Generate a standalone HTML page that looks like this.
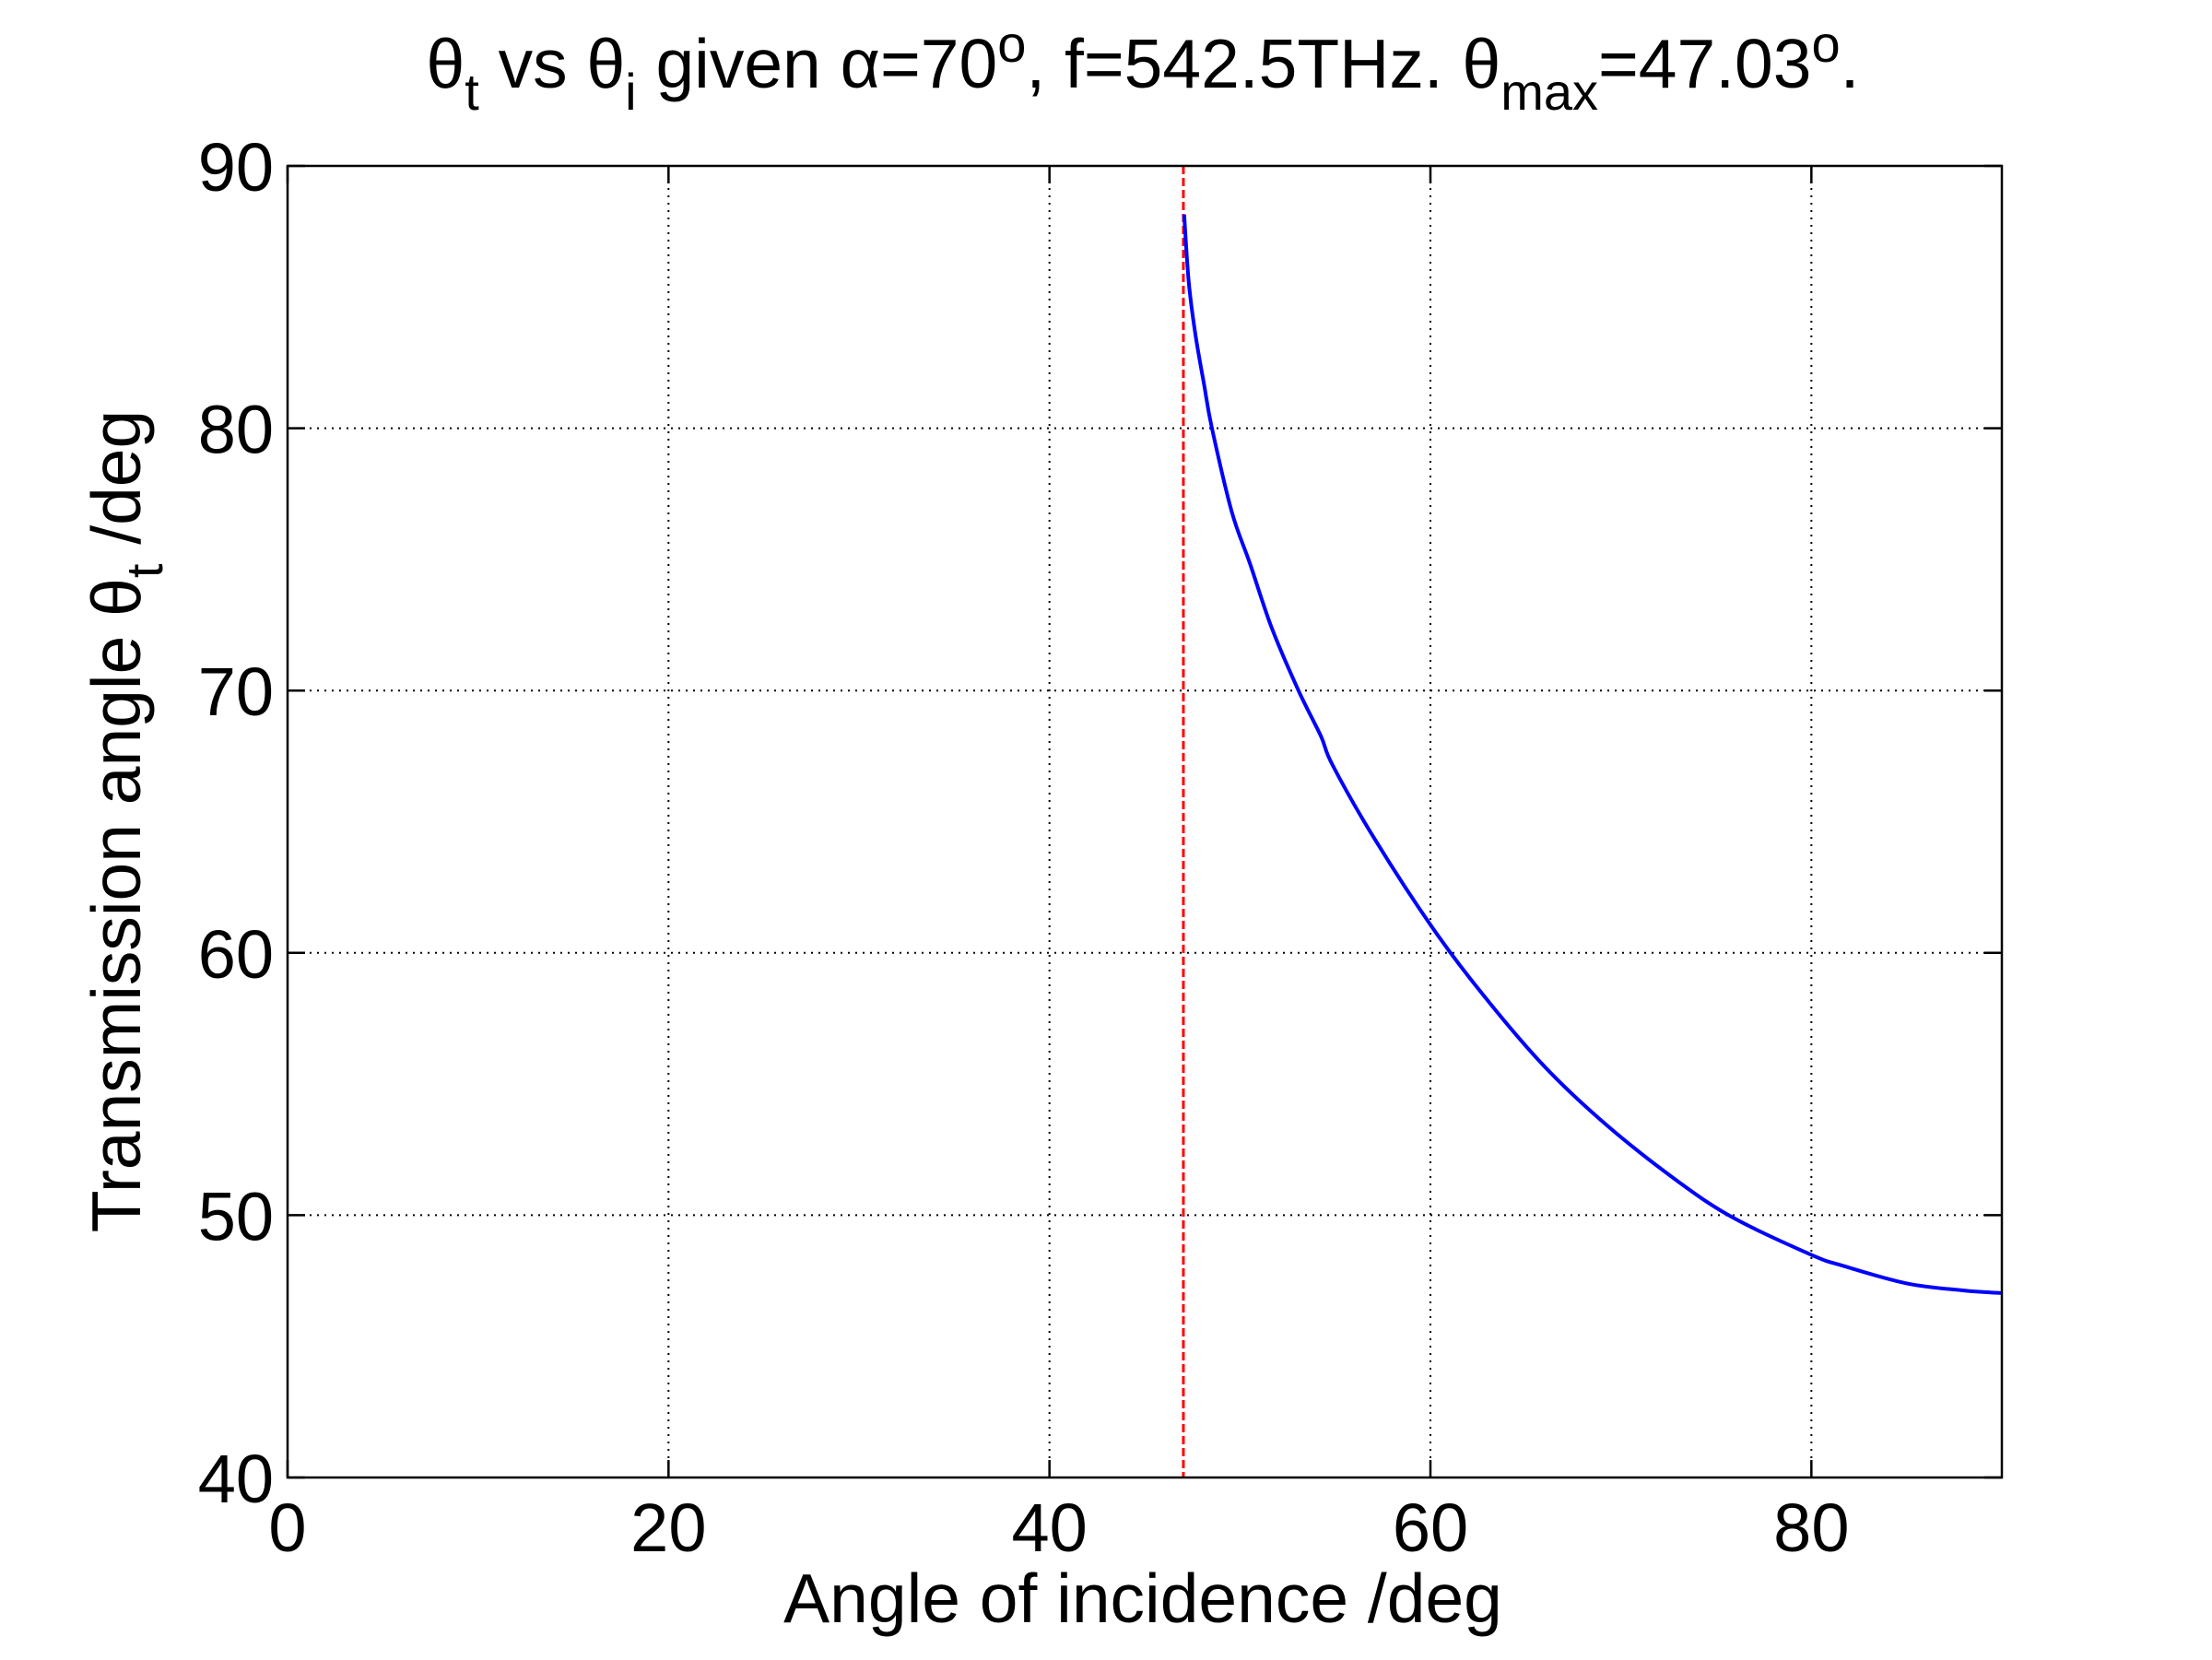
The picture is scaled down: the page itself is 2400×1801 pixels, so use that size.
<!DOCTYPE html>
<html><head><meta charset="utf-8"><style>
html,body{margin:0;padding:0;background:#fff;}
svg{display:block;font-family:"Liberation Sans",Arial,sans-serif;}
</style></head><body>
<svg id="chart" width="2400" height="1801" viewBox="0 0 2400 1801" xmlns="http://www.w3.org/2000/svg">
<rect x="0" y="0" width="2400" height="1801" fill="#fff"/>
<g id="grid"></g>
<g id="series"></g>
<rect x="312" y="180" width="1860" height="1423" fill="none" stroke="#000" stroke-width="2.5"/>
<g id="ticks"></g>
<text x="1240" y="95" font-size="75" text-anchor="middle">θ<tspan font-size="56" dy="24">t</tspan><tspan dy="-24"> vs θ</tspan><tspan font-size="56" dy="24">i</tspan><tspan dy="-24"> given α=70</tspan><tspan font-size="56" dy="-28">o</tspan><tspan dy="28">, f=542.5THz. θ</tspan><tspan font-size="56" dy="24">max</tspan><tspan dy="-24">=47.03</tspan><tspan font-size="56" dy="-28">o</tspan><tspan dy="28">.</tspan></text>
<text x="1240" y="1760" font-size="75" text-anchor="middle">Angle of incidence /deg</text>
<text transform="translate(152,891) rotate(-90)" font-size="75" text-anchor="middle">Transmission angle θ<tspan font-size="56" dy="24">t</tspan><tspan dy="-24"> /deg</tspan></text>
</svg>
<script>
const xTicks = [0, 20, 40, 60, 80];
const yTicks = [40, 50, 60, 70, 80, 90];
const thetaMax = 47.03;
const incidence = [47.07, 47.31, 47.64, 48.12, 48.52, 49.57, 50.54, 51.67, 53.04, 54.25, 54.86, 57.08, 60.04, 62.63, 65.96, 69.29, 72.99, 75.95, 80, 81.66, 85, 88, 90];
const transmission = [88.15, 85.6, 83.67, 81.65, 80.04, 76.82, 74.81, 72.39, 70.05, 68.26, 67.16, 64.33, 61.03, 58.52, 55.69, 53.41, 51.29, 49.88, 48.49, 48.07, 47.4, 47.13, 47.03];

const NS = 'http://www.w3.org/2000/svg';
const L = 312, R = 2172, T = 180, B = 1603;
const xMin = 0, xMax = 90, yMin = 40, yMax = 90;
function sx(v){ return L + (v - xMin) / (xMax - xMin) * (R - L); }
function sy(v){ return B - (v - yMin) / (yMax - yMin) * (B - T); }
function mk(tag, attrs, parent){
  const e = document.createElementNS(NS, tag);
  for (const k in attrs) e.setAttribute(k, attrs[k]);
  parent.appendChild(e);
  return e;
}
const grid = document.getElementById('grid');
const ticks = document.getElementById('ticks');
const series = document.getElementById('series');

xTicks.forEach(v => {
  const x = sx(v);
  if (v > xMin && v < xMax) {
    const g = mk('line', {x1:x, y1:T, x2:x, y2:B, stroke:'#000', 'stroke-width':2, 'stroke-dasharray':'2 6'}, grid);
    
    
  }
  const t1 = mk('line', {x1:x, y1:B, x2:x, y2:B-19, stroke:'#000', 'stroke-width':2.5}, ticks);
  
  
  const t2 = mk('line', {x1:x, y1:T, x2:x, y2:T+19, stroke:'#000', 'stroke-width':2.5}, ticks);
  
  
  const lb = mk('text', {x:x, y:1683, 'font-size':74, 'text-anchor':'middle'}, ticks);
  lb.textContent = v;
  
  
});
yTicks.forEach(v => {
  const y = sy(v);
  if (v > yMin && v < yMax) {
    const g = mk('line', {x1:L, y1:y, x2:R, y2:y, stroke:'#000', 'stroke-width':2, 'stroke-dasharray':'2 6'}, grid);
    
    
  }
  const t1 = mk('line', {x1:L, y1:y, x2:L+19, y2:y, stroke:'#000', 'stroke-width':2.5}, ticks);
  
  
  const t2 = mk('line', {x1:R, y1:y, x2:R-19, y2:y, stroke:'#000', 'stroke-width':2.5}, ticks);
  
  
  const lb = mk('text', {x:297, y:y+27, 'font-size':74, 'text-anchor':'end'}, ticks);
  lb.textContent = v;
  
  
});

const vx = sx(thetaMax);
const vl = mk('line', {x1:vx, y1:T, x2:vx, y2:B, stroke:'#ff0000', 'stroke-width':3, 'stroke-dasharray':'9 4'}, series);



// smooth Catmull-Rom path through data points
const P = incidence.map((v, i) => [sx(v), sy(transmission[i])]);
let d = 'M' + P[0][0].toFixed(1) + ',' + P[0][1].toFixed(1);
for (let i = 0; i < P.length - 1; i++) {
  const p0 = P[Math.max(i-1,0)], p1 = P[i], p2 = P[i+1], p3 = P[Math.min(i+2,P.length-1)];
  const c1 = [p1[0] + (p2[0]-p0[0])/6, p1[1] + (p2[1]-p0[1])/6];
  const c2 = [p2[0] - (p3[0]-p1[0])/6, p2[1] - (p3[1]-p1[1])/6];
  d += ' C' + c1[0].toFixed(1) + ',' + c1[1].toFixed(1) + ' ' + c2[0].toFixed(1) + ',' + c2[1].toFixed(1) + ' ' + p2[0].toFixed(1) + ',' + p2[1].toFixed(1);
}
const pl = mk('path', {d:d, fill:'none', stroke:'#0000ff', 'stroke-width':4, 'stroke-linejoin':'round'}, series);


</script>
</body></html>
